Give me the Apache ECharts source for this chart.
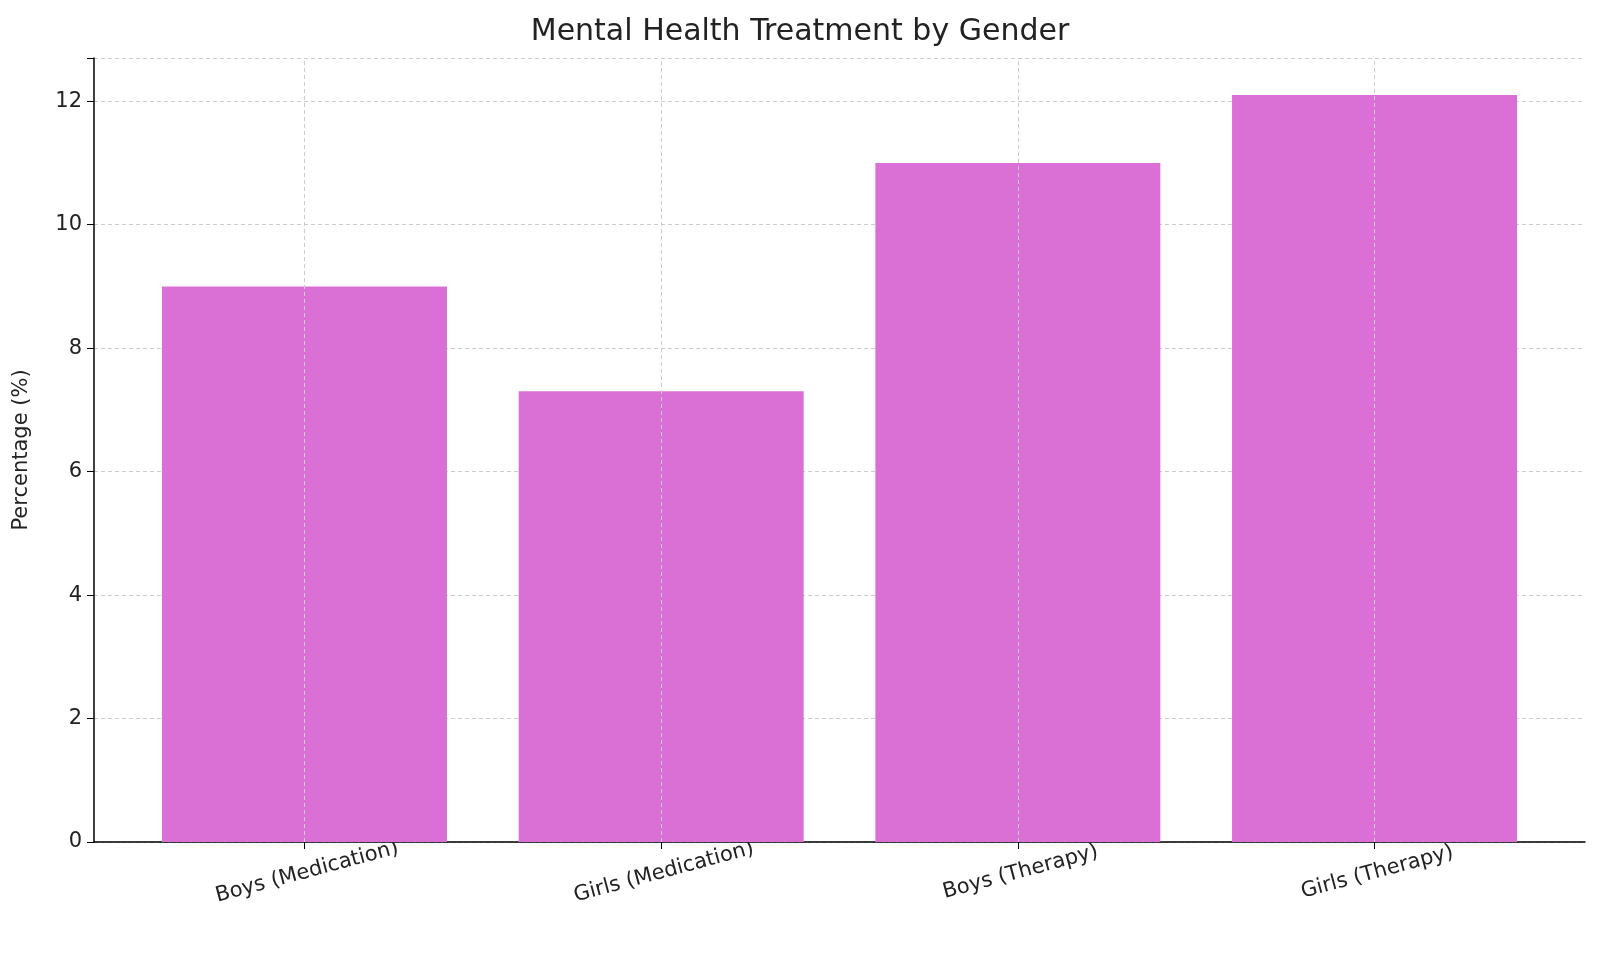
<!DOCTYPE html>
<html><head><meta charset="utf-8">
<script src="https://cdn.jsdelivr.net/npm/echarts@6/dist/echarts.min.js"></script>
<style>html,body{margin:0;padding:0;background:#fff}#c{width:1600px;height:954px}</style>
</head><body><div id="c"></div>
<script>
const categories = ["Boys (Medication)", "Girls (Medication)", "Boys (Therapy)", "Girls (Therapy)"];
const values = [9.0, 7.3, 11.0, 12.1];
const yTicks = [0, 2, 4, 6, 8, 10, 12];
const idx = categories.map((_, i) => i);
const chart = echarts.init(document.getElementById('c'));
const font = 'DejaVu Sans';
chart.setOption({
  animation: false,
  title: {text: 'Mental Health Treatment by Gender', left: 'center', top: 12,
    textStyle: {fontFamily: font, fontSize: 30, fontWeight: 'normal', color: '#222'}},
  grid: {left: 94, right: 15, top: 58, bottom: 112},
  xAxis: {type: 'value', min: -0.59, max: 3.59,
    axisLine: {onZero: false, lineStyle: {color: '#000', width: 1.5}},
    axisTick: {show: true, customValues: idx, length: 7, lineStyle: {color: '#000'}},
    axisLabel: {customValues: idx, formatter: v => categories[Math.round(v)], rotate: 15,
      align: 'center', verticalAlign: 'top',
      fontFamily: font, fontSize: 21, color: '#222', margin: 20},
    splitLine: {show: false}},
  yAxis: {type: 'value', min: 0, max: 12.7, interval: 2,
    name: 'Percentage (%)', nameLocation: 'middle', nameGap: 62,
    nameTextStyle: {fontFamily: font, fontSize: 21, color: '#222'},
    axisLine: {show: true, onZero: false, lineStyle: {color: '#000', width: 1.5}},
    axisTick: {show: true, length: 7, lineStyle: {color: '#000'}},
    axisLabel: {fontFamily: font, fontSize: 21, color: '#222', margin: 12, formatter: v => yTicks.includes(v) ? String(v) : ''},
    splitLine: {lineStyle: {color: '#ccc', type: [4, 3]}}},
  series: [{type: 'bar', data: idx.map(i => [i, values[i]]), barWidth: 285,
    itemStyle: {color: '#DA70D6'}, z: 2,
    markLine: {silent: true, symbol: 'none', label: {show: false},
      lineStyle: {color: '#ccc', type: [4, 3], width: 1},
      data: idx.map(i => ({xAxis: i}))}}]
});
</script></body></html>
